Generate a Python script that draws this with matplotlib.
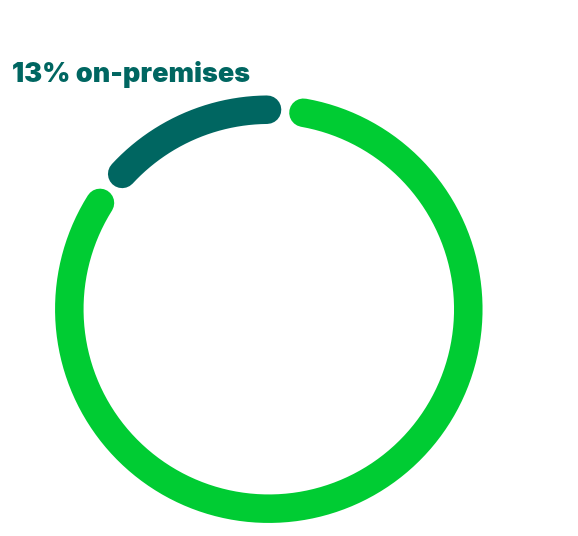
import matplotlib.pyplot as plt
import numpy as np

# data
labels = ['on-premises', 'cloud']
shares = [13, 87]
colors = ['#006661', '#00CC33']
title = '13% on-premises'

W, H = 578, 536
cx, cy, r = 268.8, 309.2, 199.5
start = 90.5     # degrees, dark arc starts at top and runs counterclockwise
gap = 10.5       # degrees between arc ends

fig = plt.figure(figsize=(W / 100, H / 100), dpi=100)
ax = fig.add_axes([0, 0, 1, 1])
ax.set_xlim(0, W)
ax.set_ylim(H, 0)
ax.axis('off')

# first slice gets its share, the rest fills what is left minus the gaps
a0 = start
a1 = start + shares[0] / sum(shares) * 360
arcs = [(a0, a1), (a1 + gap, a0 - gap + 360)]

for (t0, t1), col in zip(arcs, colors):
    t = np.radians(np.linspace(t0, t1, 400))
    ax.plot(cx + r * np.cos(t), cy - r * np.sin(t), color=col,
            lw=28.5 * 72 / 100, solid_capstyle='round')

ax.text(12.5, 82.5, title, color=colors[0], fontsize=19.4, fontweight='black',
        family=['Inter', 'DejaVu Sans'], va='baseline', ha='left')

fig.savefig('out.png', dpi=100)
